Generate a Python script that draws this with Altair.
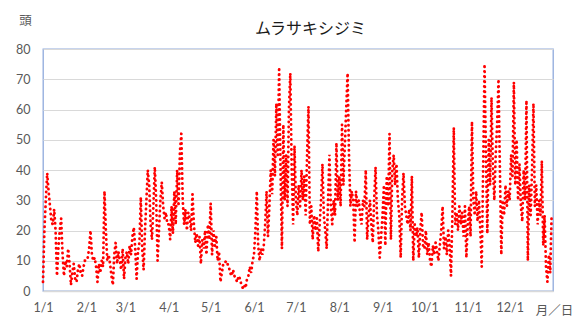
import altair as alt
import pandas as pd

TITLE = "ムラサキシジミ"
Y_UNIT = "頭"
X_UNIT = "月／日"

JAN = [3,20,30,39,33,28,23,22,27,20,5,14,20,24,12,5,10,8,14,9,2,6,9,4,3,7,9,6,5,8,10]
FEB = [10,11,14,20,12,10,11,8,3,9,6,10,8,33,20,10,12,9,5,2,12,16,9,13,10,7,14,4]
MAR = [11,13,9,15,12,18,21,14,4,13,16,31,14,7,20,30,40,35,22,17,28,41,30,10,20,30,36,28,24,26,22]
APR = [22,17,28,19,33,22,40,28,46,52,30,22,27,20,26,24,20,32,22,16,19,15,18,9,17,14,20,12,22,17]
MAY = [29,12,20,15,18,10,13,3,6,9,9,10,9,8,6,5,7,5,4,3,5,4,2,1,2,1,4,5,8,6,10]
JUN = [12,20,33,15,10,14,12,15,22,33,18,28,40,32,50,38,62,45,74,40,14,55,30,45,28,60,72,40,22,48]
JUL = [30,25,35,28,40,30,38,25,45,61,22,28,17,25,20,24,13,22,30,42,25,20,14,30,45,28,22,30,25,49,30]
AUG = [38,28,55,35,48,60,72,45,28,33,30,16,33,28,30,25,22,30,28,40,17,25,30,22,16,30,41,25,20,11,18]
SEP = [25,35,15,38,28,52,17,40,45,35,42,30,25,11,30,39,28,25,22,27,20,38,10,22,18,21,11,20,26,15]
OCT = [14,20,12,16,10,8,15,12,16,13,10,15,20,28,14,18,12,20,15,5,25,54,22,26,20,28,22,26,18,28,11]
NOV = [22,28,18,56,30,25,33,23,30,20,8,40,75,45,19,50,35,64,40,30,45,55,70,40,12,30,25,35,28,33]
DEC = [30,45,38,69,35,50,30,42,28,23,40,30,63,10,35,25,40,62,28,35,22,30,25,43,15,25,8,3,12,6,25]

MONTH_START = [0, 31, 59, 90, 120, 151, 181, 212, 243, 273, 304, 334]
MONTH_LABELS = ["1/1", "2/1", "3/1", "4/1", "5/1", "6/1", "7/1", "8/1", "9/1", "10/1", "11/1", "12/1"]
Y_TICKS = [0, 10, 20, 30, 40, 50, 60, 70, 80]

counts = JAN + FEB + MAR + APR + MAY + JUN + JUL + AUG + SEP + OCT + NOV + DEC
df = pd.DataFrame({"day": list(range(len(counts))), "count": counts})

label_expr = ("[" + ",".join(f"'{l}'" for l in MONTH_LABELS) + "][indexof(["
              + ",".join(str(v) for v in MONTH_START) + "], datum.value)]")

LABEL_FONT = "Lato"
JP_FONT = "Noto Sans CJK JP"
GRAY = "#595959"

chart = alt.Chart(df).mark_line(
    color="#ff0000", strokeWidth=2.8, strokeDash=[0.2, 4.8], strokeCap="round"
).encode(
    x=alt.X("day:Q",
            scale=alt.Scale(domain=[0, 365], nice=False, zero=False),
            axis=alt.Axis(values=MONTH_START, labelExpr=label_expr, title=X_UNIT,
                          grid=False, ticks=False, tickSize=0,
                          domainColor="#d9d9d9", domainWidth=1.5,
                          labelColor=GRAY, labelFont=LABEL_FONT, labelFontSize=12.5,
                          labelPadding=10, labelFlush=False, labelOverlap=False,
                          titleX=511, titleY=19, titleAlign="center", titleBaseline="middle",
                          titleFont=JP_FONT, titleFontSize=12.5, titleFontWeight="normal",
                          titleColor=GRAY)),
    y=alt.Y("count:Q",
            scale=alt.Scale(domain=[0, 80], nice=False),
            axis=alt.Axis(values=Y_TICKS, title=Y_UNIT, titleAngle=0,
                          titleX=-18, titleY=-28.5, titleAlign="center", titleBaseline="middle",
                          titleFont=JP_FONT, titleFontSize=12.5, titleFontWeight="normal",
                          titleColor=GRAY,
                          grid=True, gridColor="#d9d9d9", gridWidth=1.2,
                          domain=False, ticks=False, tickSize=0,
                          labelColor=GRAY, labelFont=LABEL_FONT, labelFontSize=12.5,
                          labelPadding=13)),
).properties(
    width=510, height=242,
    title=alt.TitleParams(TITLE, font=JP_FONT, fontSize=16, fontWeight="normal",
                          color="#1a1a1a", anchor="middle", frame="group",
                          dx=12.5, dy=35, offset=0, baseline="alphabetic"),
    autosize=alt.AutoSizeParams(type="none"),
    padding={"left": 43, "top": 49, "right": 26, "bottom": 31},
).configure_view(stroke="#8faadc", strokeWidth=1.3)

chart.save("out.html", embed_options={"renderer": "svg", "actions": False})
